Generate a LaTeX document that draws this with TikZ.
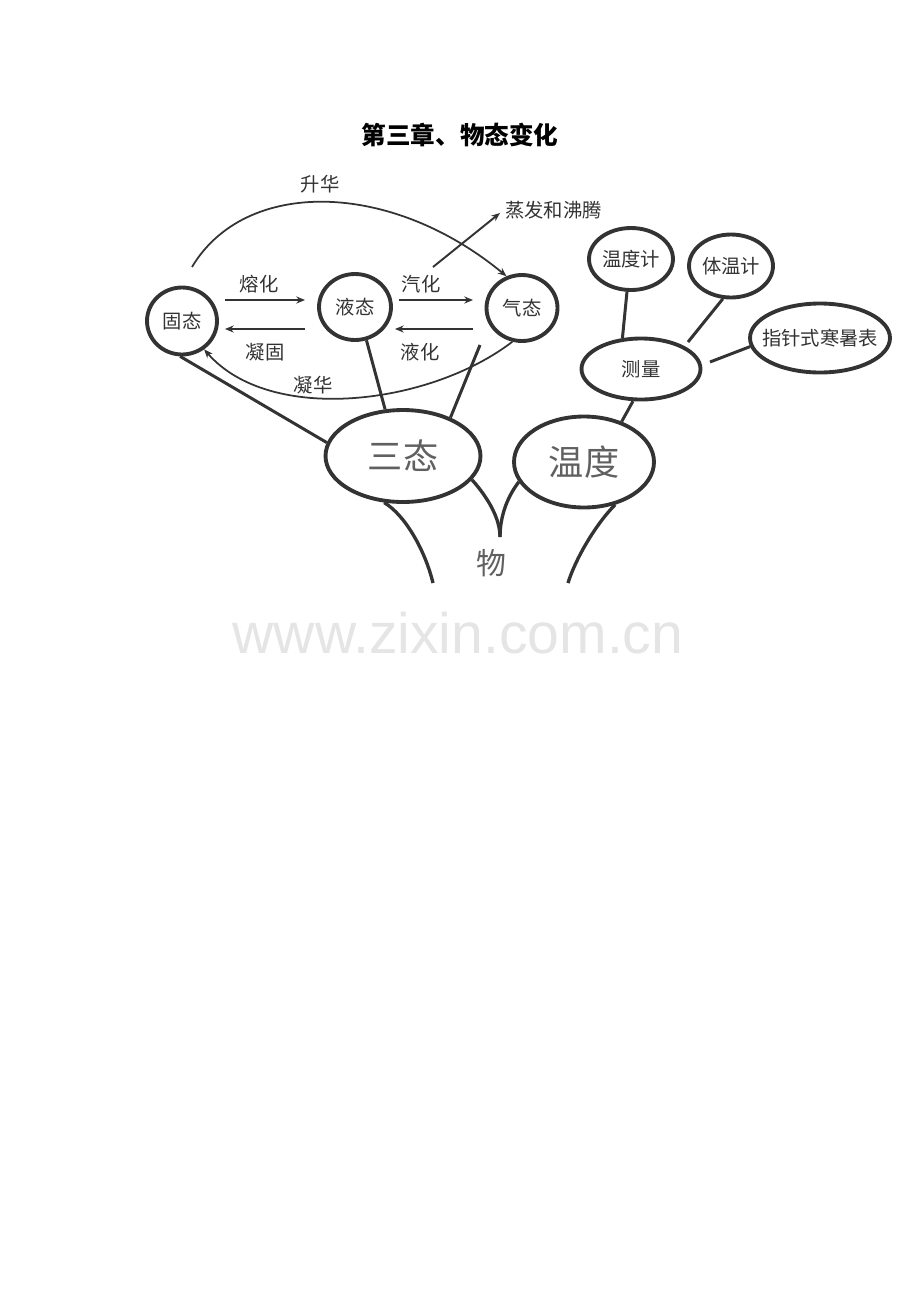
\documentclass[tikz,border=0pt]{standalone}
\usepackage{fontspec}
\newfontfamily\cjk{Noto Sans CJK SC}
\newfontfamily\wmfont{Liberation Sans}
\usetikzlibrary{shapes.geometric,arrows.meta,calc}
\definecolor{ink}{HTML}{333333}
\definecolor{bigtext}{HTML}{606060}
\tikzset{
  phase/.style={ellipse,draw=ink,line width=2.2pt,inner sep=0pt,text=ink,font=\cjk\fontsize{11}{13}\selectfont},
  bigphase/.style={phase,text=bigtext,font=\cjk\fontsize{20}{24}\selectfont},
  branch/.style={draw=ink,line width=1.7pt},
  stem/.style={draw=ink,line width=1.9pt},
  turn/.style={draw=ink,line width=1.1pt,-{Stealth[length=5pt,width=4pt]}},
  arc/.style={draw=ink,line width=1pt,-{Stealth[length=5pt,width=4pt]}},
  lbl/.style={text=ink,font=\cjk\fontsize{11}{13}\selectfont,inner sep=1pt},
}
\begin{document}
\begin{tikzpicture}[x=0.02cm,y=-0.02cm]
  \useasboundingbox (0,0) rectangle (920,1302);
  \node[font=\cjk\bfseries\fontsize{14}{16}\selectfont] (title) at (460,135) {第三章、物态变化};

  \node[phase,minimum width=1.40cm,minimum height=1.34cm] (gutai) at (182,321) {固态};
  \node[phase,minimum width=1.44cm,minimum height=1.32cm] (yetai) at (355,307) {液态};
  \node[phase,minimum width=1.42cm,minimum height=1.32cm] (qitai) at (522,308) {气态};
  \node[bigphase,minimum width=3.10cm,minimum height=1.84cm] (santai) at (403,456) {三态};
  \node[bigphase,minimum width=2.80cm,minimum height=1.82cm] (wendu) at (584,462) {温度};
  \node[phase,minimum width=2.38cm,minimum height=1.22cm] (celiang) at (641,369) {测量};
  \node[phase,minimum width=1.68cm,minimum height=1.24cm] (wenduji) at (631,259) {温度计};
  \node[phase,minimum width=1.68cm,minimum height=1.26cm] (tiwenji) at (731,266) {体温计};
  \node[phase,inner xsep=-0.18cm,minimum width=2.80cm,minimum height=1.38cm] (hanshu) at (820,338) {指针式寒暑表};

  \draw[turn] ($(gutai.east)+(6,-21)$) -- ($(yetai.west)+(-12,-7)$);
  \draw[turn] ($(yetai.west)+(-12,22)$) -- ($(gutai.east)+(6,8)$);
  \draw[turn] ($(yetai.east)+(6,-7)$) -- ($(qitai.west)+(-11.5,-8)$);
  \draw[turn] ($(qitai.west)+(-11.5,21)$) -- ($(yetai.east)+(2,22)$);
  \node[lbl] (ronghua) at (259,284) {熔化};
  \node[lbl] (ninggu) at (265,352) {凝固};
  \node[lbl] (qihua) at (421,284) {汽化};
  \node[lbl] (yehua) at (420,352) {液化};

  \coordinate (shstart) at (192,267);
  \draw[arc] (shstart) .. controls (245,178) and (390,180) .. (qitai.116);
  \node[lbl] (shenghua) at (320,184) {升华};
  \draw[arc] (qitai.254) .. controls (430,405) and (270,425) .. (gutai.308);
  \node[lbl] (ninghua) at (313,385) {凝华};

  \coordinate (zfstart) at (433,267);
  \node[lbl,anchor=west] (zhengfa) at (503,210) {蒸发和沸腾};
  \draw[turn] (zfstart) -- ($(zhengfa.west)+(-3,3)$);

  \draw[branch] (gutai.267) -- (santai.170);
  \draw[branch] (yetai.289) -- (santai.111);
  \coordinate (qtend) at (480,345);
  \draw[branch] (qtend) -- (santai.39);

  \draw[branch] (celiang.256) -- (wendu.47);
  \draw[branch] (wenduji.263) -- (celiang.121);
  \coordinate (twend) at (688,342);
  \draw[branch] (tiwenji.256) -- (twend);
  \coordinate (hsend) at (710,362);
  \draw[branch] (hanshu.187) -- (hsend);

  \coordinate (cusp) at (500,537);
  \coordinate (leftfoot) at (433,583);
  \coordinate (rightfoot) at (568,583);
  \draw[stem] (santai.341) .. controls (490,500) and (500,520) .. (cusp);
  \draw[stem] (wendu.197) .. controls (505,500) and (500,520) .. (cusp);
  \draw[stem] (santai.248) .. controls (405,515) and (425,550) .. (leftfoot);
  \draw[stem] (wendu.306) .. controls (595,525) and (575,560) .. (rightfoot);
  \node[text=bigtext,font=\cjk\fontsize{17}{20}\selectfont] (wu) at (491,563) {物};

  \node[text=black!10,font=\wmfont\fontsize{32.5}{33}\selectfont] (mark) at (458,633) {www.zixin.com.cn};
\end{tikzpicture}
\end{document}
